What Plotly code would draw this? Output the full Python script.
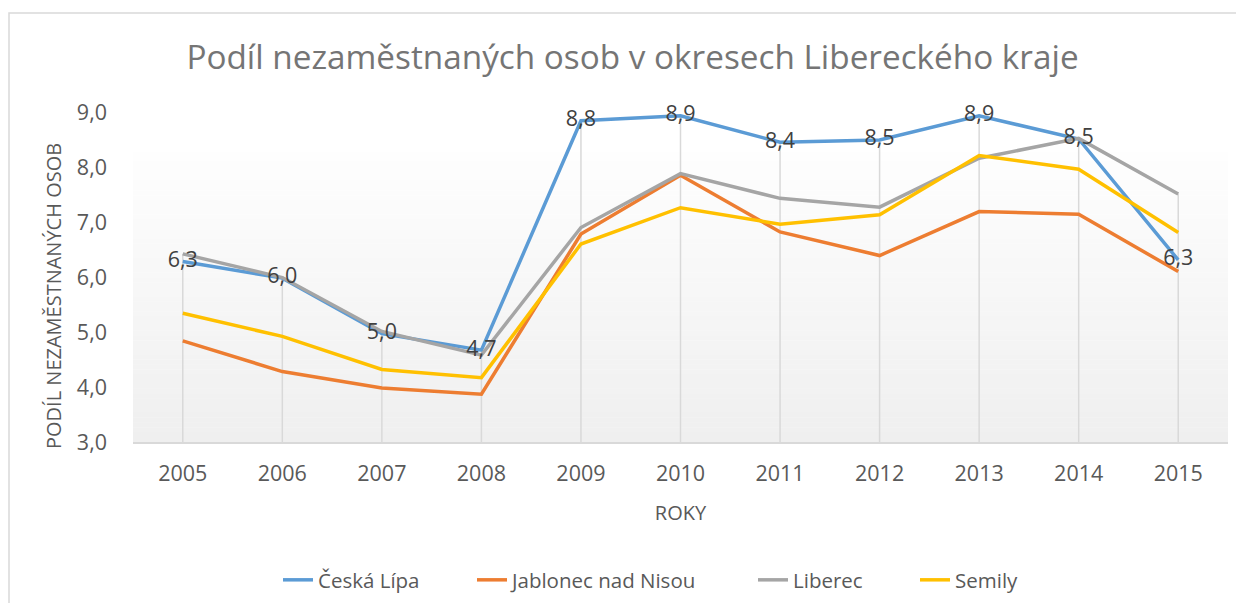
import plotly.graph_objects as go

years = ["2005", "2006", "2007", "2008", "2009", "2010", "2011", "2012", "2013", "2014", "2015"]
ceska_lipa = [6.28, 5.98, 4.97, 4.67, 8.84, 8.93, 8.45, 8.49, 8.93, 8.51, 6.31]
jablonec = [4.84, 4.28, 3.98, 3.87, 6.78, 7.85, 6.82, 6.39, 7.19, 7.14, 6.10]
liberec = [6.42, 5.99, 5.01, 4.58, 6.90, 7.88, 7.43, 7.27, 8.16, 8.52, 7.51]
semily = [5.34, 4.92, 4.32, 4.17, 6.60, 7.26, 6.96, 7.13, 8.21, 7.96, 6.81]

series_names = ["Česká Lípa", "Jablonec nad Nisou", "Liberec", "Semily"]
series_values = [ceska_lipa, jablonec, liberec, semily]
series_colors = ["#5B9BD5", "#ED7D31", "#A5A5A5", "#FFC000"]

title_text = "Podíl nezaměstnaných osob v okresech Libereckého kraje"
y_title = "PODÍL NEZAMĚSTNANÝCH OSOB"
x_title = "ROKY"

# page body has an 8px margin; figure coords = reference coords - 8
OFF = 8
W, H = 1244 - 2 * OFF, 611 - 2 * OFF
plot_l, plot_r, plot_t, plot_b = 133 - OFF, 1228 - OFF, 112 - OFF, 442 - OFF
L, R, T, B = plot_l, W - plot_r, plot_t, H - plot_b
pw, ph = plot_r - plot_l, plot_b - plot_t

def px_x(ref_px):
    return (ref_px - OFF - plot_l) / pw

def px_y(ref_px):
    return (plot_b - (ref_px - OFF)) / ph

FONT = "Open Sans"

fig = go.Figure()

# drop lines (from axis to highest value at each category)
dx, dy = [], []
for i, yr in enumerate(years):
    top = max(s[i] for s in series_values)
    dx += [yr, yr, None]
    dy += [3, top, None]
fig.add_trace(go.Scatter(x=dx, y=dy, mode="lines", line=dict(color="#D9D9D9", width=1.5),
                         showlegend=False, hoverinfo="skip"))

legend_ids = ["legend", "legend2", "legend3", "legend4"]
legend_text_start = [318, 512, 793, 955]  # reference px where legend text starts
for name, vals, col, lg in zip(series_names, series_values, series_colors, legend_ids):
    fig.add_trace(go.Scatter(x=years, y=vals, mode="lines", name=name, legend=lg,
                             line=dict(color=col, width=3.5)))

# data labels for Česká Lípa on top
fig.add_trace(go.Scatter(x=years, y=ceska_lipa, mode="text",
                         text=[f"{v:.1f}".replace(".", ",") for v in ceska_lipa],
                         textposition="middle center", cliponaxis=False,
                         textfont=dict(family=FONT, size=21.5, color="#404040"),
                         showlegend=False, hoverinfo="skip"))

shapes = []
# gradient plot-area background
n = 60
y_top_px, y_bot_px = 152, 442
c_top, c_bot = 254, 239
for k in range(n):
    y0 = y_top_px + (y_bot_px - y_top_px) * k / n
    y1 = y_top_px + (y_bot_px - y_top_px) * (k + 1) / n
    c = round(c_top + (c_bot - c_top) * (k + 0.5) / n)
    shapes.append(dict(type="rect", xref="paper", yref="paper", layer="below",
                       x0=0, x1=1, y0=px_y(y1), y1=px_y(y0) + 0.001,
                       fillcolor=f"rgb({c},{c},{c})", line=dict(width=0)))
# outer chart border
shapes.append(dict(type="rect", xref="paper", yref="paper", layer="below",
                   x0=px_x(9), x1=px_x(1300), y0=px_y(680), y1=px_y(13),
                   line=dict(color="#D9D9D9", width=1.5), fillcolor="rgba(0,0,0,0)"))

legend_common = dict(orientation="h", yanchor="middle", y=px_y(580), xanchor="left",
                     font=dict(family=FONT, size=20.5, color="#595959"), itemwidth=30,
                     bgcolor="rgba(0,0,0,0)")
legends = {}
for lg, ts in zip(legend_ids, legend_text_start):
    legends[lg] = dict(legend_common, x=px_x(ts - 40))

fig.update_layout(
    width=W, height=H,
    margin=dict(l=L, r=R, t=T, b=B, autoexpand=False),
    paper_bgcolor="white", plot_bgcolor="rgba(0,0,0,0)",
    separators=",.",
    shapes=shapes,
    annotations=[dict(text=y_title, textangle=-90, xref="paper", yref="paper",
                      x=px_x(53), y=px_y(296), xanchor="center", yanchor="middle",
                      showarrow=False, font=dict(family=FONT, size=20, color="#595959"))],
    title=dict(text=title_text, x=(632.5 - OFF) / W, xanchor="center",
               y=1 - (57 - OFF) / H, yanchor="middle",
               font=dict(family=FONT, size=33.3, color="#757575")),
    font=dict(family=FONT, color="#595959"),
    xaxis=dict(type="category", range=[-0.5, 10.5], showgrid=False, zeroline=False,
               showline=True, linecolor="#D9D9D9", linewidth=1.5, ticks="",
               ticklabelstandoff=11, automargin=False,
               tickfont=dict(family=FONT, size=21.5, color="#595959"),
               title=dict(text=x_title, font=dict(family=FONT, size=20, color="#595959"), standoff=20)),
    yaxis=dict(range=[3, 9], dtick=1, tickformat=".1f", showgrid=False, zeroline=False,
               showline=False, ticks="", ticklabelstandoff=25, automargin=False,
               tickfont=dict(family=FONT, size=21.5, color="#595959")),
    hovermode=False,
    **legends,
)

fig.write_html("out.html")
